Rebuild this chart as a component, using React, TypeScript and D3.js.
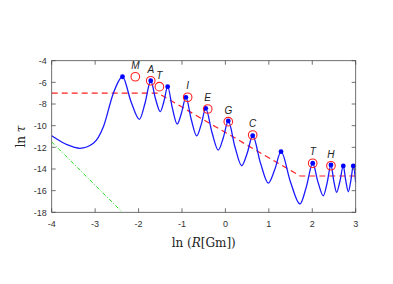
import { useRef, useEffect } from 'react';
import * as d3 from 'd3';

// blue curve: points (ln R, ln tau), peaks, valleys and flank points
const curveX = [-4, -3.65, -3.35, -3.04, -2.81, -2.58, -2.37, -2.175, -1.98, -1.85, -1.72, -1.61, -1.5, -1.415, -1.33, -1.22, -1.11, -1.01, -0.91, -0.785, -0.66, -0.557, -0.454, -0.309, -0.164, -0.049, 0.066, 0.2205, 0.375, 0.5015, 0.628, 0.808, 0.988, 1.134, 1.28, 1.4985, 1.717, 1.8635, 2.01, 2.132, 2.254, 2.342, 2.43, 2.495, 2.56, 2.637, 2.714, 2.772, 2.83, 2.887, 2.944, 3];
const curveY = [-10.93, -11.75, -12.09, -11.63, -10.1, -7.0, -5.48, -7.76, -9.41, -7.91, -5.85, -7.51, -8.71, -7.74, -6.4, -8.4, -9.85, -8.81, -7.38, -9.45, -10.95, -9.88, -8.4, -10.63, -12.25, -11.12, -9.57, -11.97, -13.7, -12.54, -10.93, -13.46, -15.3, -14.08, -12.4, -15.2, -17.23, -15.65, -13.47, -15.21, -16.47, -15.28, -13.63, -15.09, -16.15, -15.13, -13.72, -15.1, -16.1, -15.1, -13.72, -15.26];
const peakX = [-2.37, -1.72, -1.33, -0.91, -0.454, 0.066, 0.628, 1.28, 2.01, 2.43, 2.714, 2.944];
const peakY = [-5.48, -5.85, -6.4, -7.38, -8.4, -9.57, -10.93, -12.4, -13.47, -13.63, -13.72, -13.72];

// observed bodies (red circles)
const bodyNames = ['M', 'A', 'T', 'I', 'E', 'G', 'C', 'T', 'H'];
const bodyX = [-2.075, -1.72, -1.52, -0.87, -0.408, 0.066, 0.628, 2.01, 2.43];
const bodyY = [-5.48, -5.85, -6.4, -7.38, -8.46, -9.63, -10.86, -13.47, -13.7];

// red dashed piecewise line
const dashX = [-4, -1.55, 1.72, 3];
const dashY = [-7.0, -7.0, -14.65, -14.65];

// green dash-dot line
const greenX = [-4, -2.375];
const greenY = [-11.5, -18];

const xTicks = [-4, -3, -2, -1, 0, 1, 2, 3];
const yTicks = [-18, -16, -14, -12, -10, -8, -6, -4];

export default function App() {
  const svgRef = useRef<SVGSVGElement>(null);

  useEffect(() => {
    if (!svgRef.current) return;
    const W = 393, H = 284;
    const left = 51.7, right = 355.7, top = 60.7, bottom = 212.3;

    const svg = d3.select(svgRef.current);
    svg.selectAll('*').remove();
    svg.attr('width', W).attr('height', H);

    const x = d3.scaleLinear().domain([-4, 3]).range([left, right]);
    const y = d3.scaleLinear().domain([-18, -4]).range([bottom, top]);

    const axisColor = '#4d4d4d';
    const tickFont = 'Liberation Sans, Arial, sans-serif';

    const plot = svg.append('g');
    const defs = svg.append('defs');
    defs.append('clipPath').attr('id', 'plot-clip')
      .append('rect')
      .attr('x', left).attr('y', top)
      .attr('width', right - left).attr('height', bottom - top);

    const clipped = plot.append('g').attr('clip-path', 'url(#plot-clip)');

    const line = d3.line<[number, number]>()
      .x(d => x(d[0]))
      .y(d => y(d[1]));

    // green
    clipped.append('path')
      .attr('d', line(greenX.map((v, i) => [v, greenY[i]] as [number, number])))
      .attr('fill', 'none')
      .attr('stroke', '#22dd22')
      .attr('stroke-width', 1)
      .attr('stroke-dasharray', '4,2,1,2');

    // red dashed
    clipped.append('path')
      .attr('d', line(dashX.map((v, i) => [v, dashY[i]] as [number, number])))
      .attr('fill', 'none')
      .attr('stroke', '#ff2020')
      .attr('stroke-width', 1.2)
      .attr('stroke-dasharray', '6,4');

    // blue curve
    const smooth = d3.line<[number, number]>()
      .x(d => x(d[0]))
      .y(d => y(d[1]))
      .curve(d3.curveMonotoneX);
    clipped.append('path')
      .attr('d', smooth(curveX.map((v, i) => [v, curveY[i]] as [number, number])))
      .attr('fill', 'none')
      .attr('stroke', '#1a1aff')
      .attr('stroke-width', 1.3);

    // peak dots
    plot.selectAll('circle.peak')
      .data(peakX)
      .enter()
      .append('circle')
      .attr('class', 'peak')
      .attr('cx', d => x(d))
      .attr('cy', (_, i) => y(peakY[i]))
      .attr('r', 2.4)
      .attr('fill', '#0000ff');

    // bodies
    plot.selectAll('circle.body')
      .data(bodyX)
      .enter()
      .append('circle')
      .attr('class', 'body')
      .attr('cx', d => x(d))
      .attr('cy', (_, i) => y(bodyY[i]))
      .attr('r', 4.3)
      .attr('fill', 'none')
      .attr('stroke', '#ff2020')
      .attr('stroke-width', 1.1);

    plot.selectAll('text.body')
      .data(bodyNames)
      .enter()
      .append('text')
      .attr('class', 'body')
      .attr('x', (_, i) => x(bodyX[i]))
      .attr('y', (_, i) => y(bodyY[i]) - 8)
      .attr('text-anchor', 'middle')
      .attr('font-family', tickFont)
      .attr('font-style', 'italic')
      .attr('font-size', '10px')
      .attr('fill', '#222')
      .text(d => d);

    // box
    plot.append('rect')
      .attr('x', left).attr('y', top)
      .attr('width', right - left).attr('height', bottom - top)
      .attr('fill', 'none')
      .attr('stroke', axisColor)
      .attr('stroke-width', 0.8);

    const tl = 4;
    xTicks.forEach(t => {
      plot.append('line').attr('x1', x(t)).attr('x2', x(t)).attr('y1', bottom).attr('y2', bottom - tl)
        .attr('stroke', axisColor).attr('stroke-width', 0.8);
      plot.append('line').attr('x1', x(t)).attr('x2', x(t)).attr('y1', top).attr('y2', top + tl)
        .attr('stroke', axisColor).attr('stroke-width', 0.8);
      plot.append('text')
        .attr('x', x(t)).attr('y', bottom + 15)
        .attr('text-anchor', 'middle')
        .attr('font-family', tickFont)
        .attr('font-size', '9px')
        .attr('fill', '#333')
        .text(String(t));
    });
    yTicks.forEach(t => {
      plot.append('line').attr('x1', left).attr('x2', left + tl).attr('y1', y(t)).attr('y2', y(t))
        .attr('stroke', axisColor).attr('stroke-width', 0.8);
      plot.append('line').attr('x1', right).attr('x2', right - tl).attr('y1', y(t)).attr('y2', y(t))
        .attr('stroke', axisColor).attr('stroke-width', 0.8);
      plot.append('text')
        .attr('x', left - 5).attr('y', y(t) + 3.2)
        .attr('text-anchor', 'end')
        .attr('font-family', tickFont)
        .attr('font-size', '9px')
        .attr('fill', '#333')
        .text(String(t));
    });

    // axis labels
    const xl = svg.append('text')
      .attr('x', (left + right) / 2).attr('y', 247)
      .attr('text-anchor', 'middle')
      .attr('font-family', 'DejaVu Serif, Liberation Serif, serif')
      .attr('font-size', '12px')
      .attr('fill', '#222');
    xl.append('tspan').text('ln (');
    xl.append('tspan').attr('font-style', 'italic').text('R');
    xl.append('tspan').text('[Gm])');

    const yl = svg.append('text')
      .attr('transform', `translate(25,${(top + bottom) / 2}) rotate(-90)`)
      .attr('text-anchor', 'middle')
      .attr('font-family', 'DejaVu Serif, Liberation Serif, serif')
      .attr('font-size', '12px')
      .attr('fill', '#222');
    yl.append('tspan').text('ln ');
    yl.append('tspan').attr('font-style', 'italic').text('τ');
  }, []);

  return (
    <div style={{ position: 'absolute', left: 0, top: 0, width: 393, height: 284, background: '#fff' }}>
      <svg ref={svgRef} style={{ display: 'block' }} />
    </div>
  );
}
